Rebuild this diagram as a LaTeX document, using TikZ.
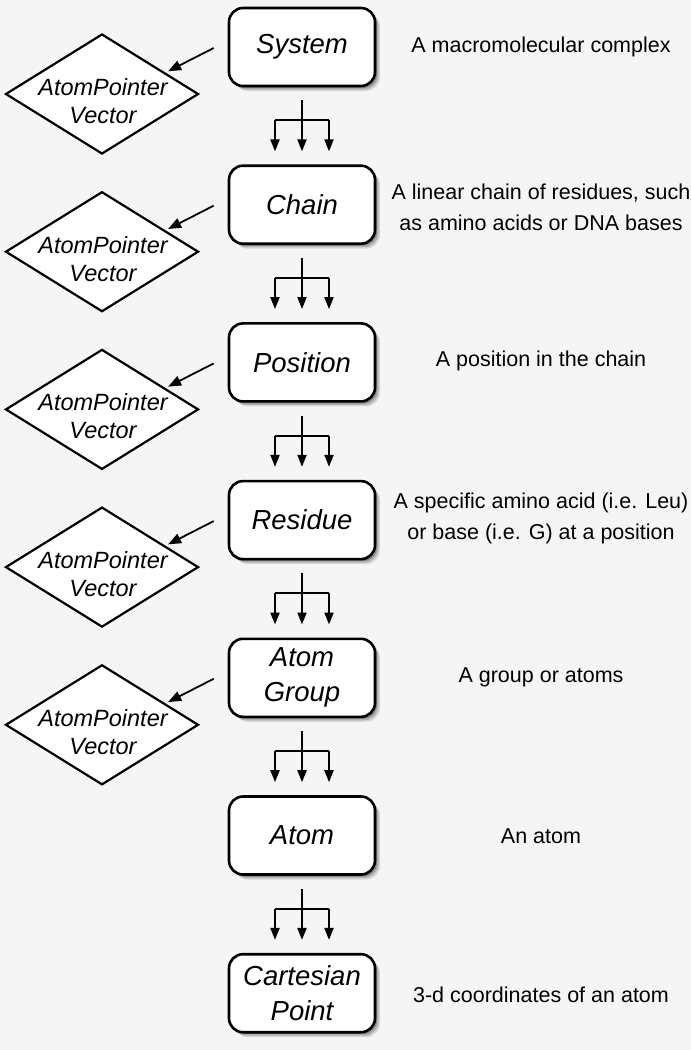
\documentclass[tikz,border=0pt]{standalone}
\usepackage{fontspec}
\setmainfont{Liberation Sans}
\usetikzlibrary{shapes.geometric,shadows,arrows.meta,calc}
\definecolor{bgc}{RGB}{245,245,245}
\begin{document}
\begin{tikzpicture}[x=1pt,y=-1pt,
  box/.style={draw, line width=2.6pt, rounded corners=14pt, fill=white,
    minimum width=146pt, minimum height=78pt, inner sep=0pt, align=center,
    font=\fontsize{27.5}{35}\selectfont\itshape,
    drop shadow={shadow xshift=5pt, shadow yshift=-5pt, fill=black, opacity=0.12},
    drop shadow={shadow xshift=3.5pt, shadow yshift=-3.5pt, fill=black, opacity=0.18},
    drop shadow={shadow xshift=2pt, shadow yshift=-2pt, fill=black, opacity=0.25}},
  dia/.style={draw, diamond, line width=2.2pt, fill=white,
    minimum width=193pt, minimum height=120pt, inner sep=0pt},
  dtext/.style={align=center, inner sep=0pt, font=\fontsize{23.5}{28}\selectfont\itshape},
  desc/.style={align=center, inner sep=0pt, font=\fontsize{21.5}{31}\selectfont},
  ptr/.style={line width=1.8pt, -{Triangle[length=13pt,width=10pt]}, shorten >=3pt},
  fork/.style={line width=2pt, -{Triangle[length=12pt,width=9pt]}},
  bar/.style={line width=2pt}
]
\fill[bgc] (0,0) rectangle (691,1050);
\useasboundingbox (0,0) rectangle (691,1050);

% main boxes
\foreach \i/\lab in {1/System, 2/Chain, 3/Position, 4/Residue, 5/{Atom\\Group}, 6/Atom, 7/{Cartesian\\Point}}
  \node[box] (b\i) at (302, {47+157.7*(\i-1)}) {\lab};

% descriptions
\node[desc] (t1) at (541,47) {A macromolecular complex};
\node[desc] (t2) at (541,207) {A linear chain of residues, such\\as amino acids or DNA bases};
\node[desc] (t3) at (541,361) {A position in the chain};
\node[desc] (t4) at (541,518) {A specific amino acid (i.e. Leu)\\or base (i.e. G) at a position};
\node[desc] (t5) at (541,677) {A group or atoms};
\node[desc] (t6) at (541,836) {An atom};
\node[desc] (t7) at (541,995) {3-d coordinates of an atom};

% diamonds and pointer arrows
\foreach \i in {1,...,5} {
  \node[dia] (d\i) at (102, {94+157.7*(\i-1)}) {};
  \node[dtext] (dt\i) at ($(d\i.center)+(1,7)$) {AtomPointer\\Vector};
  \coordinate (s\i) at ($(b\i.west)+(-14,1)$);
  \coordinate (e\i) at ($(d\i.east)!0.35!(d\i.north)$);
  \draw[ptr] (s\i) -- (e\i);
}

% forks between boxes
\foreach \i [evaluate=\i as \j using int(\i+1)] in {1,...,6} {
  \coordinate (fa\i) at ($(b\i.south)+(0,13)$);
  \coordinate (fb\i) at ($(b\i.south)+(0,33)$);
  \coordinate (fc\i) at ($(b\j.north)+(0,-13)$);
  \draw[fork] (fa\i) -- (fc\i);
  \draw[bar] ($(fb\i)+(-27,0)$) -- ($(fb\i)+(27,0)$);
  \draw[fork] ($(fb\i)+(-27,0)$) -- ($(fc\i)+(-27,0)$);
  \draw[fork] ($(fb\i)+(27,0)$) -- ($(fc\i)+(27,0)$);
}
\end{tikzpicture}
\end{document}
